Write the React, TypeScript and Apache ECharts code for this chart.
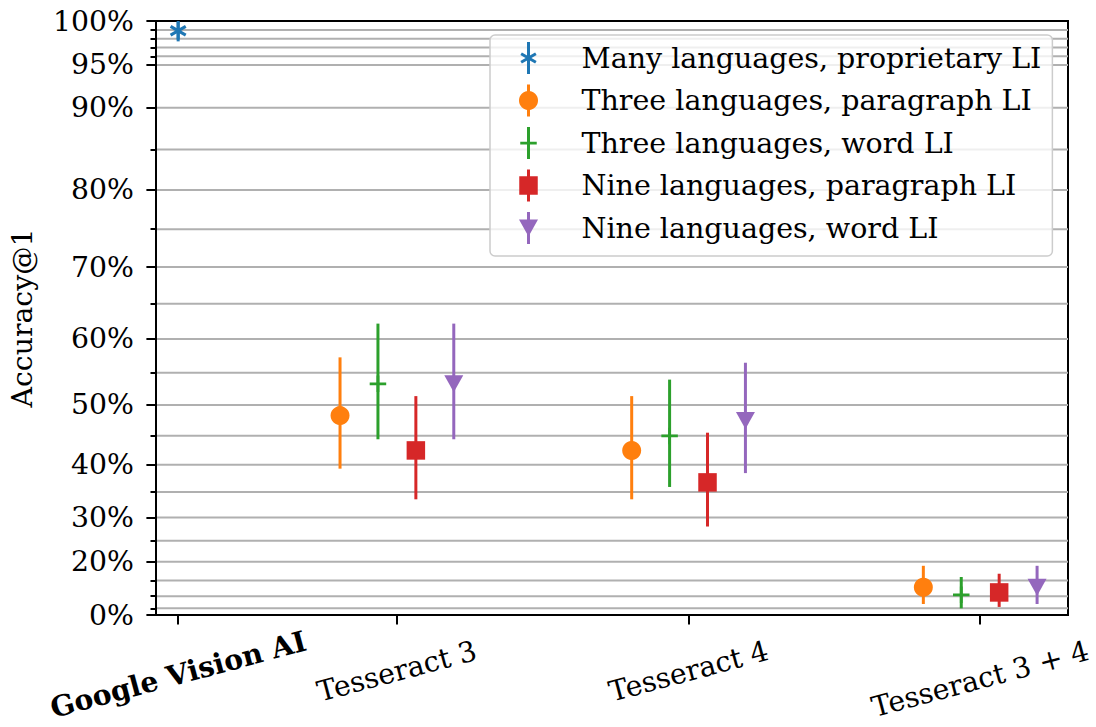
import React, { useEffect, useRef } from "react";
import * as echarts from "echarts";

// ---------- data ----------
const xTickPos = [0.25, 1, 2, 3];
const xTickLabels = ["Google Vision AI", "Tesseract 3", "Tesseract 4", "Tesseract 3 + 4"];
const xTickBold = [true, false, false, false];
const groupPos = [1, 2, 3];
const groupOffsets = [-0.195, -0.065, 0.065, 0.195];

const seriesNames = [
  "Many languages, proprietary LI",
  "Three languages, paragraph LI",
  "Three languages, word LI",
  "Nine languages, paragraph LI",
  "Nine languages, word LI",
];
const seriesColors = ["#1f77b4", "#ff7f0e", "#2ca02c", "#d62728", "#9467bd"];

const googleAcc = [0.989];
const googleErr = [0.012];
const threeParaAcc = [0.483, 0.425, 0.13];
const threeParaErr = [0.09, 0.089, 0.06];
const threeWordAcc = [0.533, 0.4495, 0.105];
const threeWordErr = [0.089, 0.09, 0.055];
const nineParaAcc = [0.425, 0.368, 0.113];
const nineParaErr = [0.089, 0.087, 0.056];
const nineWordAcc = [0.533, 0.475, 0.13];
const nineWordErr = [0.089, 0.09, 0.06];

const yMajorPct = [0, 20, 30, 40, 50, 60, 70, 80, 90, 95, 100];
const yMinorPct = [5, 10, 15, 25, 35, 45, 55, 65, 75, 85, 96, 97, 98, 99];

const X_MIN = 0.174;
const X_MAX = 3.301;

// ---------- style ----------
const FONT = '"DejaVu Serif", serif';
const FS = 28.3;
const LEGEND_FS = 28.5;
const boldLabelShift = -10;

const tr = (p: number) => Math.pow(Math.max(0, p), 1.5);

function seg(x1: number, y1: number, x2: number, y2: number, w: number) {
  const dx = x2 - x1, dy = y2 - y1;
  const L = Math.hypot(dx, dy);
  const nx = (-dy / L) * (w / 2), ny = (dx / L) * (w / 2);
  const f = (v: number) => v.toFixed(3);
  return `M${f(x1 + nx)},${f(y1 + ny)} L${f(x2 + nx)},${f(y2 + ny)} L${f(x2 - nx)},${f(y2 - ny)} L${f(x1 - nx)},${f(y1 - ny)} Z `;
}
function circ(cx: number, cy: number, r: number) {
  let s = "";
  const n = 48;
  for (let i = 0; i < n; i++) {
    const a = (i / n) * Math.PI * 2;
    const x = cx + r * Math.cos(a), y = cy - r * Math.sin(a);
    s += (i === 0 ? "M" : "L") + x.toFixed(3) + "," + y.toFixed(3) + " ";
  }
  return s + "Z ";
}
function asterisk(cx: number, cy: number, r: number, w: number) {
  const c = Math.cos(Math.PI / 6) * r, s = Math.sin(Math.PI / 6) * r;
  return seg(cx, cy - r, cx, cy + r, w) + seg(cx - c, cy + s, cx + c, cy - s, w) + seg(cx - c, cy - s, cx + c, cy + s, w);
}
const tri = (cx: number, cy: number, w: number, h: number) =>
  `M${cx - w / 2},${cy - h / 2} L${cx},${cy + h / 2} L${cx + w / 2},${cy - h / 2} Z `;

// plot markers
const starPath = "path://" + asterisk(10, 10, 8.5, 3);
const plusPath = "path://" + seg(10, 1.75, 10, 18.25, 2.75) + seg(1.75, 10, 18.25, 10, 2.75);
const triPath = "path://" + tri(10, 10, 19, 17);

// legend icons (marker + error bar)
const LW = 22, LH = 32, LC = 11, LM = 16;
const bar = seg(LC, 0, LC, LH, 3);
const legendIcons = [
  "path://" + asterisk(LC, LM, 8.5, 3) + bar,
  "path://" + circ(LC, LM, 9.5) + bar,
  "path://" + seg(LC - 8.25, LM, LC + 8.25, LM, 2.75) + bar,
  "path://" + seg(LC - 9.25, LM, LC + 9.25, LM, 18.5) + bar,
  "path://" + tri(LC, LM, 19, 17) + bar,
];

let measureCtx: CanvasRenderingContext2D | null = null;
function measure(text: string, font: string) {
  if (!measureCtx) measureCtx = document.createElement("canvas").getContext("2d");
  if (!measureCtx) return text.length * FS * 0.6;
  measureCtx.font = font;
  return measureCtx.measureText(text).width;
}

export default function App() {
  const ref = useRef<HTMLDivElement>(null);
  useEffect(() => {
    if (!ref.current) return;
    const chart = echarts.init(ref.current, null, { renderer: "svg" });

    const groups = [
      { acc: threeParaAcc, err: threeParaErr, off: groupOffsets[0], sym: "circle", size: 19 },
      { acc: threeWordAcc, err: threeWordErr, off: groupOffsets[1], sym: plusPath, size: 16.5 },
      { acc: nineParaAcc, err: nineParaErr, off: groupOffsets[2], sym: "rect", size: 18.5 },
      { acc: nineWordAcc, err: nineWordErr, off: groupOffsets[3], sym: triPath, size: [19, 17] },
    ];
    const all = [
      { xs: [xTickPos[0]], acc: googleAcc, err: googleErr, sym: starPath, size: 17.5 },
      ...groups.map((g) => ({ xs: groupPos.map((p) => p + g.off), acc: g.acc, err: g.err, sym: g.sym, size: g.size })),
    ];

    const series: any[] = [];
    const gridVals = [...yMajorPct, ...yMinorPct].filter((v) => v > 0 && v < 100);
    series.push({
      type: "custom",
      name: "grid",
      z: 0,
      silent: true,
      data: gridVals.map((v) => [X_MIN, tr(v / 100)]),
      renderItem: (params: any, api: any) => {
        const cs = params.coordSys;
        const y = api.coord([X_MIN, api.value(1)])[1];
        return {
          type: "line",
          shape: { x1: cs.x, y1: y, x2: cs.x + cs.width, y2: y },
          style: { stroke: "#b0b0b0", lineWidth: 2 },
        };
      },
    });

    all.forEach((s, si) => {
      const color = seriesColors[si];
      series.push({
        type: "custom",
        name: "err" + si,
        z: 2,
        silent: true,
        data: s.xs.map((x, i) => [x, s.acc[i], s.err[i]]),
        renderItem: (params: any, api: any) => {
          const x = api.value(0), v = api.value(1), e = api.value(2);
          const lo = Math.max(0, v - e), hi = Math.min(1, v + e);
          const p1 = api.coord([x, tr(lo)]);
          const p2 = api.coord([x, tr(hi)]);
          return {
            type: "line",
            shape: { x1: p1[0], y1: p1[1], x2: p2[0], y2: p2[1] },
            style: { stroke: color, lineWidth: 3 },
          };
        },
      });
      series.push({
        type: "scatter",
        name: seriesNames[si],
        z: 3,
        symbol: s.sym,
        symbolSize: s.size,
        symbolKeepAspect: si === 0 || si === 2,
        itemStyle: { color, opacity: 1 },
        data: s.xs.map((x, i) => [x, tr(s.acc[i])]),
      });
    });

    // rotated x tick labels (matplotlib-like: rotated bbox centered under tick, top at fixed pad)
    const rot = (15 * Math.PI) / 180;
    series.push({
      type: "custom",
      name: "xlabels",
      z: 5,
      silent: true,
      clip: false,
      data: xTickPos.map((x) => [x, 0]),
      renderItem: (params: any, api: any) => {
        const i = params.dataIndex;
        const pt = api.coord([api.value(0), 0]);
        const weight = xTickBold[i] ? "bold" : "normal";
        const w = measure(xTickLabels[i], `${weight} ${FS}px "DejaVu Serif"`);
        const H = FS * 1.164;
        const half = (w / 2) * Math.sin(rot) + (H / 2) * Math.cos(rot);
        return {
          type: "text",
          x: pt[0],
          y: pt[1] + 19.2 + half + (xTickBold[i] ? boldLabelShift : 0),
          rotation: rot,
          style: {
            text: xTickLabels[i],
            fontFamily: FONT,
            fontSize: FS,
            fontWeight: weight,
            fill: "#000",
            align: "center",
            verticalAlign: "middle",
          },
        };
      },
    });

    const textStyle = { fontFamily: FONT, fontSize: FS, color: "#000" };

    chart.setOption({
      animation: false,
      backgroundColor: "#fff",
      grid: {
        left: 156,
        right: 28,
        top: 21,
        bottom: 112,
        show: true,
        borderColor: "#000",
        borderWidth: 2,
        backgroundColor: "transparent",
        containLabel: false,
        outerBoundsMode: "none",
      },
      legend: {
        orient: "vertical",
        left: 490,
        top: 35,
        padding: [7, 11, 12, 29],
        itemWidth: LW,
        itemHeight: LH,
        itemGap: 10.5,
        selectedMode: false,
        backgroundColor: "rgba(255,255,255,0.8)",
        borderColor: "#cccccc",
        borderWidth: 1.5,
        borderRadius: 5,
        symbolKeepAspect: true,
        textStyle: { fontFamily: FONT, fontSize: LEGEND_FS, color: "#000", padding: [0, 0, 0, 37] },
        data: seriesNames.map((n, i) => ({ name: n, icon: legendIcons[i] })),
      },
      xAxis: {
        type: "value",
        min: X_MIN,
        max: X_MAX,
        axisLine: { show: true, onZero: false, lineStyle: { color: "#000", width: 2 } },
        axisTick: { show: true, customValues: xTickPos, length: 9.6, lineStyle: { color: "#000", width: 2 } },
        axisLabel: { show: false },
        splitLine: { show: false },
      },
      yAxis: [
        {
          type: "value",
          min: 0,
          max: 1,
          position: "left",
          name: "Accuracy@1",
          nameLocation: "middle",
          nameGap: 120,
          nameTextStyle: textStyle,
          axisLine: { show: true, onZero: false, lineStyle: { color: "#000", width: 2 } },
          axisTick: { show: true, customValues: yMajorPct.map((v) => tr(v / 100)), length: 9.6, lineStyle: { color: "#000", width: 2 } },
          axisLabel: {
            customValues: yMajorPct.map((v) => tr(v / 100)),
            margin: 22,
            ...textStyle,
            formatter: (v: number) => Math.round(Math.pow(v, 2 / 3) * 100) + "%",
          },
          splitLine: { show: false },
        },
        {
          type: "value",
          min: 0,
          max: 1,
          position: "left",
          axisLine: { show: false, onZero: false },
          axisTick: { show: true, customValues: yMinorPct.map((v) => tr(v / 100)), length: 5.5, lineStyle: { color: "#000", width: 2 } },
          axisLabel: { show: false },
          splitLine: { show: false },
        },
      ],
      series,
    });
    return () => chart.dispose();
  }, []);
  return <div ref={ref} style={{ position: "fixed", left: 0, top: 0, width: 1096, height: 727, background: "#fff" }} />;
}
